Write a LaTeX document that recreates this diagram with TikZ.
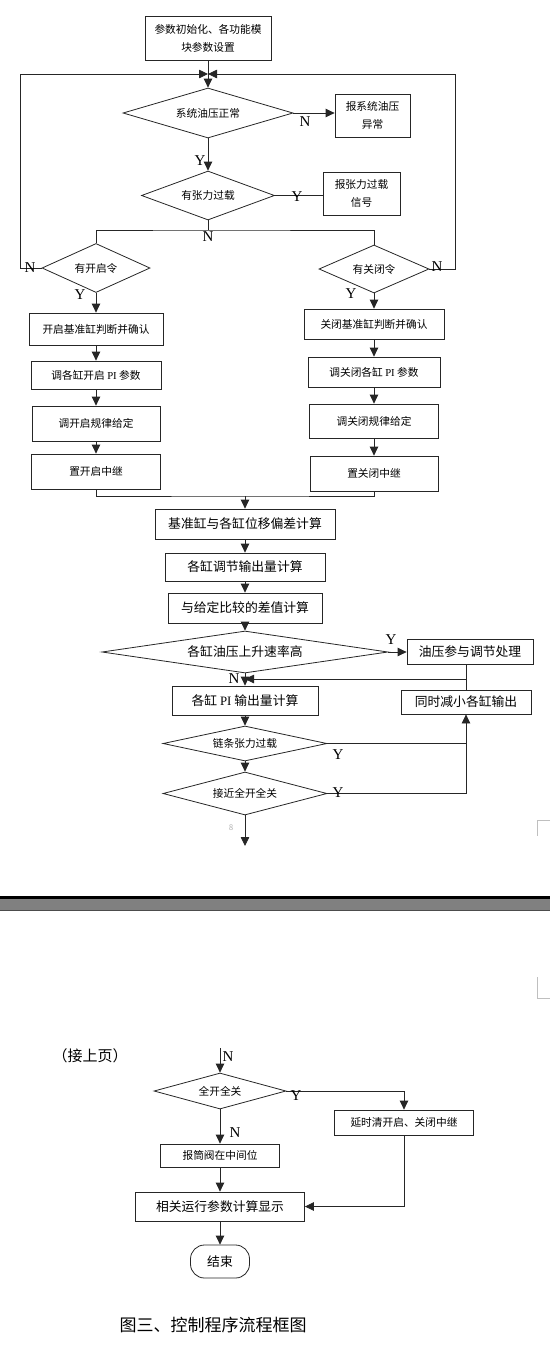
\documentclass[tikz,border=0pt]{standalone}
\usepackage{fontspec}
\setmainfont{Noto Sans CJK SC}
\newfontfamily\yn{Liberation Serif}
\usetikzlibrary{shapes.geometric, arrows.meta}

\begin{document}
\begin{tikzpicture}[x=1pt, y=-1pt, line width=0.8pt, draw=black!85,
  box/.style={draw, rectangle, inner sep=0pt, align=center, font=\fontsize{10.7}{18}\selectfont},
  bigbox/.style={box, font=\fontsize{12.8}{16}\selectfont},
  dia/.style={draw, diamond, inner sep=0pt, font=\fontsize{10.7}{13}\selectfont},
  yn/.style={font=\yn\fontsize{15}{15}\selectfont, inner sep=0pt},
  arr/.style={-{Triangle[length=9pt, width=8.5pt]}}]
  \useasboundingbox (0,0) rectangle (550,1358);

  \node[box, minimum width=126pt, minimum height=44pt] (init) at (208,38) {参数初始化、各功能模\\块参数设置};
  \coordinate (top) at (208,74);
  \coordinate (lp) at (20,74);
  \coordinate (rp) at (455,74);
  \node[dia, aspect=3.4, minimum width=170pt, minimum height=50pt] (d1) at (208,113) {系统油压正常};
  \node[box, minimum width=75pt, minimum height=43pt] (e1) at (372.5,115.5) {报系统油压\\异常};
  \node[dia, aspect=2.7, minimum width=133pt, minimum height=49pt] (d2) at (208,195.5) {有张力过载};
  \node[box, minimum width=77pt, minimum height=43pt] (e2) at (361.5,193.5) {报张力过载\\信号};
  \coordinate (sp) at (208,230);
  \node[dia, aspect=2.2, minimum width=108pt, minimum height=49pt] (d3) at (96,268) {有开启令};
  \node[dia, aspect=2.3, minimum width=110pt, minimum height=48pt] (d4) at (374,269) {有关闭令};

  \node[box, minimum width=134pt, minimum height=32pt] (o1) at (96,329) {开启基准缸判断并确认};
  \node[box, minimum width=130pt, minimum height=28pt] (o2) at (96,375) {调各缸开启 {\yn PI} 参数};
  \node[box, minimum width=128pt, minimum height=35pt] (o3) at (96,423.5) {调开启规律给定};
  \node[box, minimum width=129pt, minimum height=35pt] (o4) at (96,471.5) {置开启中继};
  \node[box, minimum width=140pt, minimum height=30pt] (c1) at (374,324) {关闭基准缸判断并确认};
  \node[box, minimum width=132pt, minimum height=30pt] (c2) at (374,372) {调关闭各缸 {\yn PI} 参数};
  \node[box, minimum width=129pt, minimum height=34pt] (c3) at (374,421) {调关闭规律给定};
  \node[box, minimum width=128pt, minimum height=35pt] (c4) at (374,473.5) {置关闭中继};
  \coordinate (mg) at (245,496);

  \node[bigbox, minimum width=180pt, minimum height=30pt] (m1) at (245,524) {基准缸与各缸位移偏差计算};
  \node[bigbox, minimum width=160pt, minimum height=28pt] (m2) at (245,567) {各缸调节输出量计算};
  \node[bigbox, minimum width=154pt, minimum height=30pt] (m3) at (245,608) {与给定比较的差值计算};
  \node[dia, font=\fontsize{12.8}{16}\selectfont, aspect=6.8, minimum width=286pt, minimum height=42pt] (d5) at (245,652) {各缸油压上升速率高};
  \node[bigbox, minimum width=126pt, minimum height=25pt] (oil) at (470,652) {油压参与调节处理};
  \coordinate (jn) at (466,679);
  \node[bigbox, minimum width=146pt, minimum height=29pt] (pi) at (245,700.5) {各缸 {\yn PI} 输出量计算};
  \node[bigbox, minimum width=130pt, minimum height=24pt] (red) at (466,702) {同时减小各缸输出};
  \node[dia, aspect=4.7, minimum width=164pt, minimum height=35pt] (d6) at (245,743.5) {链条张力过载};
  \node[dia, aspect=3.8, minimum width=164pt, minimum height=43pt] (d7) at (245,793.5) {接近全开全关};
  \coordinate (out) at (245,846);

  \draw[arr] (init) -- (d1);
  \draw[arr] (d3.west) -| (lp) -- (top);
  \draw[arr] (d4.east) -| (rp) -- (top);
  \draw[arr] (d1.east) -- (d1.east -| e1.west);
  \draw[arr] (d1) -- (d2);
  \draw (d2.east) -- (d2.east -| e2.west);
  \draw (d2.south) -- (sp);
  \draw (d3.north) |- (sp) -| (d4.north);
  \draw[arr] (d3) -- (o1);
  \draw[arr] (o1) -- (o2);
  \draw[arr] (o2) -- (o3);
  \draw[arr] (o3) -- (o4);
  \draw[arr] (d4) -- (c1);
  \draw[arr] (c1) -- (c2);
  \draw[arr] (c2) -- (c3);
  \draw[arr] (c3) -- (c4);
  \draw (o4.south) |- (mg) -| (c4.south);
  \draw[arr] (mg) -- (m1);
  \draw[arr] (m1) -- (m2);
  \draw[arr] (m2) -- (m3);
  \draw[arr] (m3) -- (d5);
  \draw[arr] (d5.east) -- (oil.west);
  \draw[arr] (d5) -- (pi);
  \draw (oil.south -| jn) -- (red.north);
  \draw[arr] (jn) -- (jn -| d5.south);
  \draw[arr] (pi) -- (d6);
  \draw[arr] (d6) -- (d7);
  \draw (d6.east) -- (d6.east -| red.south);
  \draw[arr] (d7.east) -| (red.south);
  \draw[arr] (d7) -- (out);

  \node[yn] (n1) at (305,122) {N};
  \node[yn] (y1) at (200,161) {Y};
  \node[yn] (y2) at (297,197) {Y};
  \node[yn] (n2) at (208,237) {N};
  \node[yn] (n3) at (30,268) {N};
  \node[yn] (n4) at (437,267) {N};
  \node[yn] (y3) at (80,295) {Y};
  \node[yn] (y4) at (351,294) {Y};
  \node[yn] (y5) at (391,640) {Y};
  \node[yn] (n5) at (234,679) {N};
  \node[yn] (y6) at (338,755) {Y};
  \node[yn] (y7) at (338,793) {Y};
  \node[text=black!30, font=\fontsize{8}{8}\selectfont] (pg) at (231,828) {8};
  \draw[black!25, line width=0.6pt] (550,820) -| (537,836);
  \draw[black!25, line width=0.6pt] (537,977) |- (550,998);

  \fill[black] (0,896) rectangle (550,899);
  \fill[black!50] (0,899) rectangle (550,910);
  \draw[black!70] (0,910.5) -- (550,910.5);

  \node[font=\fontsize{15}{15}\selectfont] (cont) at (90,1056) {（接上页）};
  \coordinate (in) at (220,1048);
  \node[dia, aspect=3.7, minimum width=132pt, minimum height=36pt] (d8) at (220,1091) {全开全关};
  \node[box, minimum width=139pt, minimum height=25pt] (dly) at (404,1122.5) {延时清开启、关闭中继};
  \node[box, minimum width=119pt, minimum height=23pt] (mid) at (220,1155.5) {报筒阀在中间位};
  \node[bigbox, minimum width=169pt, minimum height=29pt] (disp) at (220,1206.5) {相关运行参数计算显示};
  \node[bigbox, rounded corners=14pt, minimum width=59pt, minimum height=33pt] (end) at (220,1261.5) {结束};

  \draw[arr] (in) -- (d8);
  \draw[arr] (d8.east) -| (dly.north);
  \draw[arr] (d8) -- (mid);
  \draw[arr] (mid) -- (disp);
  \draw[arr] (disp) -- (end);
  \draw[arr] (dly.south) |- (disp.east);

  \node[yn] (n6) at (228,1057) {N};
  \node[yn] (y8) at (296,1096) {Y};
  \node[yn] (n7) at (235,1133) {N};
  \node[font=\fontsize{17}{17}\selectfont] (cap) at (213,1325) {图三、控制程序流程框图};
\end{tikzpicture}
\end{document}
